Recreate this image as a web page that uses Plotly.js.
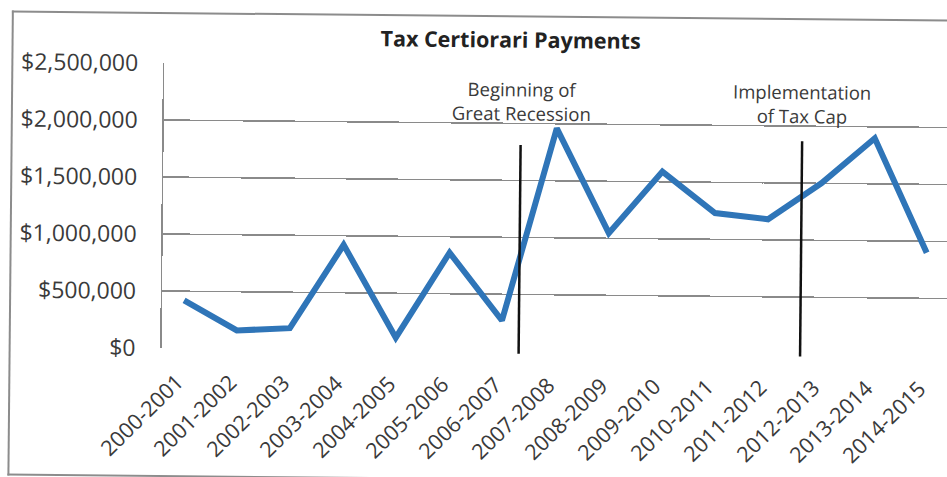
<!DOCTYPE html>
<html>
<head>
<meta charset="utf-8">
<script src="https://cdn.plot.ly/plotly-3.0.1.min.js"></script>
<style>
  html, body { margin: 0; padding: 0; background: #ffffff; overflow: hidden; width: 947px; height: 477px; }
  /* the reference is a slightly tilted scan; the chart continues past the right edge */
  #wrap { position: relative; width: 1000px; height: 477px; transform: rotate(0.55deg); transform-origin: 163px 206px; }
  #chart { position: absolute; left: 0; top: 0; width: 1000px; height: 477px; }
  #frame { position: absolute; left: 10px; top: 11.5px; width: 1100px; height: 461px;
           border-left: 2px solid #8c8c8c; border-top: 2px solid #8c8c8c; border-bottom: 2px solid #8c8c8c;
           pointer-events: none; z-index: 5; }
</style>
</head>
<body>
<div id="wrap"><div id="chart"></div><div id="frame"></div></div>
<script>
// ---- data ----
var fiscalYears = ['2000-2001', '2001-2002', '2002-2003', '2003-2004', '2004-2005',
                   '2005-2006', '2006-2007', '2007-2008', '2008-2009', '2009-2010',
                   '2010-2011', '2011-2012', '2012-2013', '2013-2014', '2014-2015'];
var payments = [420000, 160000, 185000, 920000, 110000,
                860000, 270000, 1960000, 1045000, 1590000,
                1230000, 1180000, 1500000, 1900000, 900000];
var yTickValues = [0, 500000, 1000000, 1500000, 2000000, 2500000];
var yTickLabels = ['$0', '$500,000', '$1,000,000', '$1,500,000', '$2,000,000', '$2,500,000'];
var eventLabels = ['Beginning of<br>Great Recession', 'Implementation<br>of Tax Cap'];
var eventIndex = [6.32, 11.63];
var chartTitle = 'Tax Certiorari Payments';

// ---- styling / placement ----
var FONT = 'Open Sans, Lato, Liberation Sans, sans-serif';
var TXT = '#3a3a3a';
var eventLineTop = [0.724, 0.747];      // paper fraction of plot height
var eventLineBottom = [-0.008, -0.008];
var eventTextY = [2200000, 2196000];

var trace = {
  type: 'scatter',
  mode: 'lines',
  x: fiscalYears,
  y: payments,
  line: { color: '#2f75b8', width: 6 },
  hoverinfo: 'x+y'
};

var shapes = [];
var annotations = [];
for (var i = 0; i < eventIndex.length; i++) {
  shapes.push({
    type: 'line', xref: 'x', yref: 'paper',
    x0: eventIndex[i], x1: eventIndex[i],
    y0: eventLineBottom[i], y1: eventLineTop[i],
    line: { color: '#111111', width: 2.5 }
  });
  annotations.push({
    xref: 'x', yref: 'y', x: eventIndex[i], y: eventTextY[i],
    text: eventLabels[i], showarrow: false,
    xanchor: 'center', yanchor: 'middle', align: 'center',
    font: { family: FONT, size: 18.5, color: TXT }
  });
}

var layout = {
  width: 1000, height: 477,
  margin: { l: 163, r: 13, t: 63, b: 129 },
  paper_bgcolor: '#ffffff',
  plot_bgcolor: '#ffffff',
  showlegend: false,
  title: {
    text: '<b>' + chartTitle + '</b>',
    x: 0.509, xref: 'container', xanchor: 'center',
    y: 0.923, yref: 'container', yanchor: 'middle',
    font: { family: FONT, size: 21.5, color: '#222222' }
  },
  xaxis: {
    type: 'category',
    range: [-0.415, 15.13],
    showgrid: false,
    zeroline: false,
    showline: false,
    ticks: '',
    tickangle: -45,
    ticklabelstandoff: 16,
    ticklabelshift: -6,
    tickfont: { family: FONT, size: 21.5, color: TXT }
  },
  yaxis: {
    range: [0, 2500000],
    tickvals: yTickValues,
    ticktext: yTickLabels,
    showgrid: true,
    gridcolor: '#8a8a8a',
    gridwidth: 1.5,
    zeroline: false,
    showline: true,
    linecolor: '#8a8a8a',
    linewidth: 1.5,
    ticks: '',
    ticklabelstandoff: 20,
    tickfont: { family: FONT, size: 23, color: TXT }
  },
  shapes: shapes,
  annotations: annotations
};

Plotly.newPlot('chart', [trace], layout, { displayModeBar: false, staticPlot: true });
</script>
</body>
</html>
